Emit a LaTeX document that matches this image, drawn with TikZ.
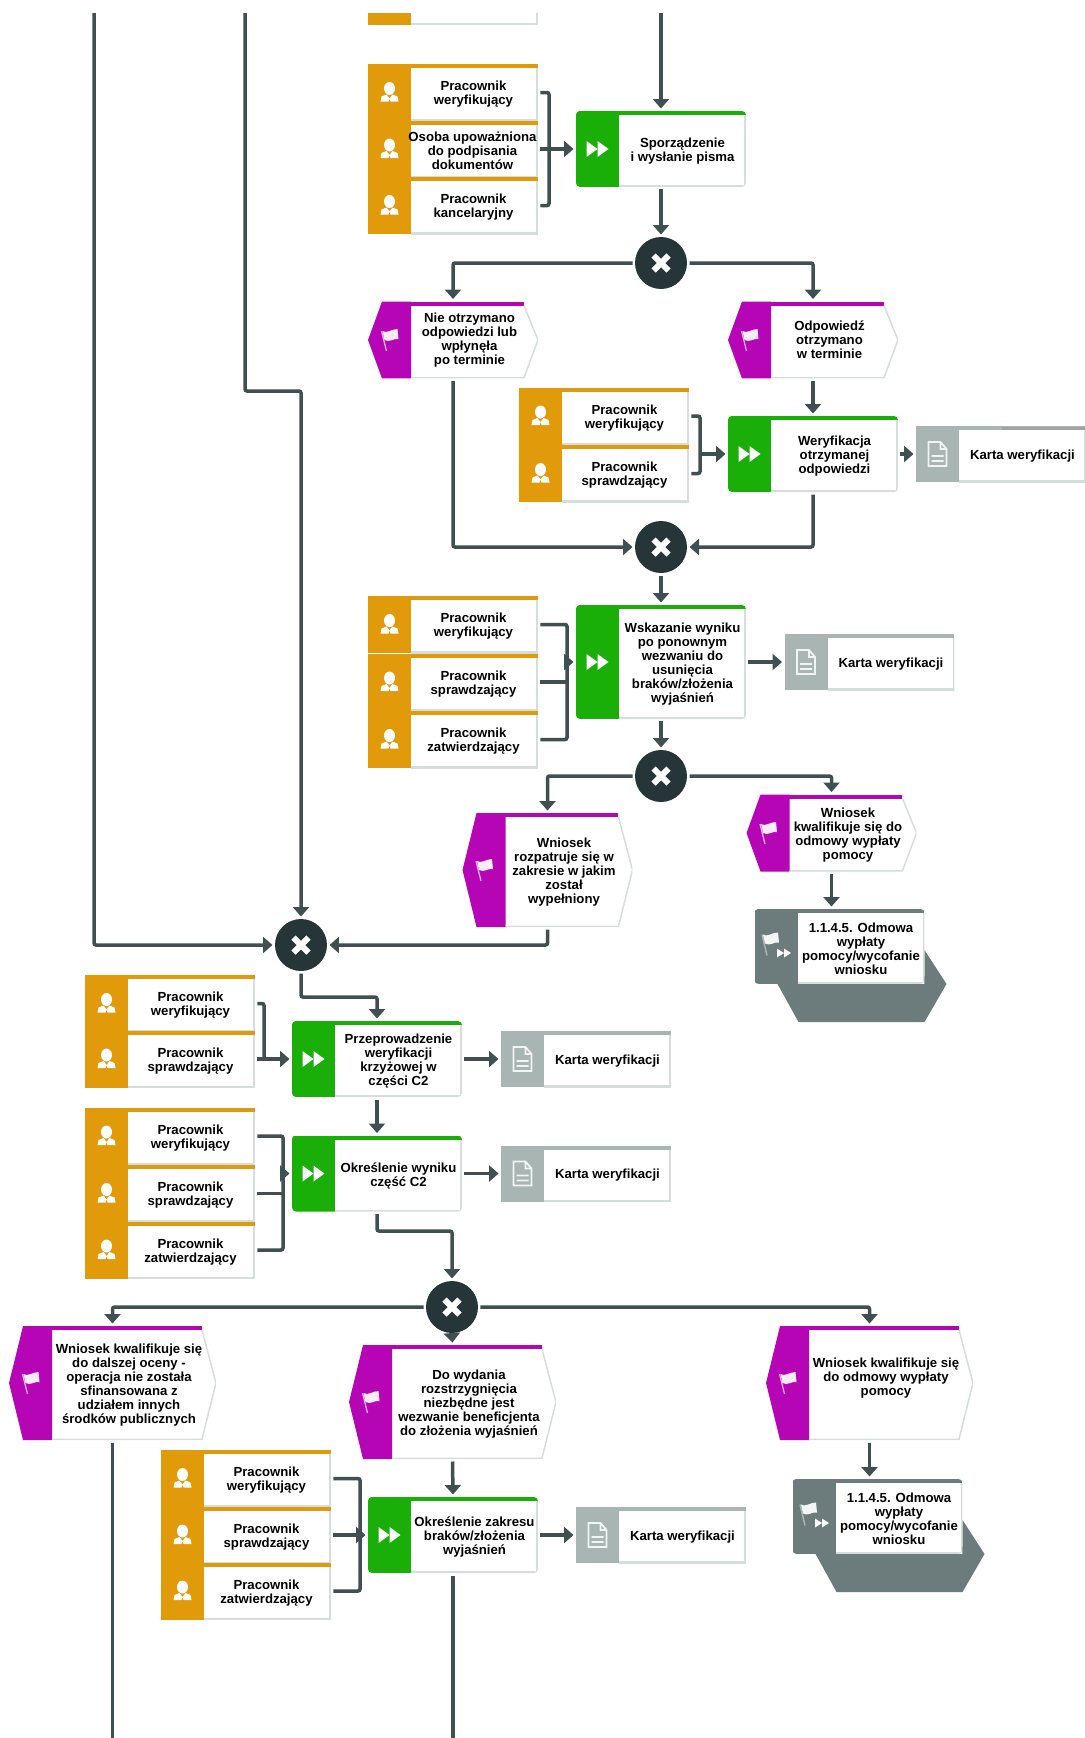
\documentclass[tikz,border=0pt]{standalone}
\usepackage{fontspec}
\setmainfont{Liberation Sans}
\usetikzlibrary{arrows.meta}

\definecolor{roleorange}{HTML}{E09A0A}
\definecolor{taskgreen}{HTML}{1AAE08}
\definecolor{eventpurple}{HTML}{B505B5}
\definecolor{docgray}{HTML}{A9B5B3}
\definecolor{ifacegray}{HTML}{6C7C7C}
\definecolor{edgegray}{HTML}{D5DEDC}
\definecolor{linedark}{HTML}{3F4F52}
\definecolor{gatedark}{HTML}{263538}

\def\pbb{path picture bounding box}

% band, top stripe, edge and icon of a box
\newcommand{\paintbox}[2]{
  \begin{scope}[sharp corners]
  \fill[#1] (\pbb.north west) rectangle ([xshift=.86cm]\pbb.south west);
  \fill[#1] (\pbb.north west) rectangle ([yshift=-.08cm]\pbb.north east);
  \draw[edgegray, line width=.07cm] ([xshift=.86cm]\pbb.south west) -- (\pbb.south east) -- ([yshift=-.08cm]\pbb.north east);
  \pic[shift={(\pbb.west)}, xshift=.43cm] {#2};
  \end{scope}
}
\newcommand{\painthex}{
  \fill[white] (\pbb.west) -- ([xshift=.28cm]\pbb.north west) -- ([xshift=-.28cm]\pbb.north east) -- (\pbb.east) -- ([xshift=-.28cm]\pbb.south east) -- ([xshift=.28cm]\pbb.south west) -- cycle;
  \fill[eventpurple] (\pbb.west) -- ([xshift=.28cm]\pbb.north west) -- ([xshift=.86cm]\pbb.north west) -- ([xshift=.86cm]\pbb.south west) -- ([xshift=.28cm]\pbb.south west) -- cycle;
  \fill[eventpurple] ([xshift=.28cm]\pbb.north west) rectangle ([xshift=-.28cm, yshift=-.08cm]\pbb.north east);
  \draw[edgegray, line width=.03cm] ([xshift=.86cm, yshift=.015cm]\pbb.south west) -- ([xshift=-.28cm, yshift=.015cm]\pbb.south east) -- (\pbb.east) -- ([xshift=-.28cm, yshift=-.08cm]\pbb.north east);
  \pic[shift={(\pbb.west)}, xshift=.43cm] {flagicon};
}
% text of a box, in the white part
\newcommand{\boxlabel}[3][.43cm]{\node[boxtext] (#2text) at ([xshift=#1, yshift=-.04cm]#2.center) {#3};}

\begin{document}
\begin{tikzpicture}[x=0.02cm, y=-0.02cm,
  boxtext/.style={align=center, inner sep=0, font=\bfseries\fontsize{7.5}{7.95}\selectfont},
  rolebox/.style={rectangle, minimum width=3.4cm, minimum height=1.14cm, inner sep=0, outer sep=.05cm, path picture={\paintbox{roleorange}{personicon}}},
  taskbox/.style={rectangle, rounded corners=.08cm, minimum width=3.4cm, minimum height=1.52cm, inner sep=0, outer sep=.05cm, path picture={\paintbox{taskgreen}{ffwdicon}}},
  docbox/.style={rectangle, minimum width=3.4cm, minimum height=1.12cm, inner sep=0, outer sep=.05cm, path picture={\paintbox{docgray}{docicon}}},
  eventbox/.style={rectangle, minimum width=3.4cm, minimum height=1.54cm, inner sep=0, outer sep=.05cm, path picture={\painthex}},
  ifacebox/.style={rectangle, rounded corners=.08cm, minimum width=3.4cm, minimum height=1.5cm, inner sep=0, outer sep=.05cm, path picture={\paintbox{ifacegray}{ifaceicon}}},
  gateway/.style={circle, fill=gatedark, minimum size=1.04cm, inner sep=0, outer sep=.05cm, path picture={
    \draw[white, line width=.12cm] ([shift={(-7.5,-7.5)}]\pbb.center) -- ([shift={(7.5,7.5)}]\pbb.center);
    \draw[white, line width=.12cm] ([shift={(-7.5,7.5)}]\pbb.center) -- ([shift={(7.5,-7.5)}]\pbb.center);}},
  link/.style={draw=linedark, line width=.07cm, rounded corners=.04cm},
  flow/.style={link, -{Triangle[width=.32cm, length=.19cm]}},
  personicon/.pic={
    \fill[white] (0,-4) ellipse (5.5 and 6.5);
    \fill[white] (-9,9) -- (-8,4) -- (-3,2) -- (0,6) -- (3,2) -- (8,4) -- (9,9) -- (1,9) -- (0,6) -- (-1,9) -- cycle;},
  ffwdicon/.pic={
    \fill[white] (-11,-8) -- (0,0) -- (-11,8) -- cycle;
    \fill[white] (0,-8) -- (11,0) -- (0,8) -- cycle;},
  flagicon/.pic={
    \draw[white!70!eventpurple, line width=.025cm] (-8,-9) -- (-3,11);
    \fill[white!92!eventpurple] (-7,-9) .. controls (-3,-6) and (2,-11) .. (8,-11) -- (9,-1) .. controls (4,-2) and (0,3) .. (-5,0) -- cycle;},
  docicon/.pic={
    \draw[white!85!docgray, line width=.035cm] (-9,-12) -- (3,-12) -- (9,-5) -- (9,12) -- (-9,12) -- cycle (3,-12) -- (3,-5) -- (9,-5) (-6,2) -- (6,2) (-6,7) -- (6,7);},
  ifaceicon/.pic={
    \draw[docgray, line width=.03cm] (-14,-12) -- (-9,9);
    \fill[white!92!ifacegray] (-13,-12) .. controls (-9,-9) and (-4,-14) .. (2,-14) -- (3,-4) .. controls (-2,-5) and (-6,0) .. (-11,-3) -- cycle;
    \fill[white] (1,2) -- (8,6.5) -- (1,11) -- cycle;
    \fill[white] (8,2) -- (15,6.5) -- (8,11) -- cycle;}
]
\useasboundingbox (0,0) rectangle (1085,1738);
\clip (0,13) rectangle (1085,1738);

% free ends
\coordinate (in1) at (94,0);
\coordinate (in2) at (245,0);
\coordinate (in3) at (661,0);
\coordinate (out1) at (112.5,1738);
\coordinate (out2) at (453,1738);
\coordinate (brA) at (549,149);
\coordinate (brB) at (700,454);
\coordinate (brC) at (567,662);
\coordinate (brD) at (264,1059);
\coordinate (brE) at (283,1173.5);
\coordinate (brF) at (360,1535);

% roles
\node[rolebox] at (453,-3.5) (r0) {};
\node[rolebox] at (453,92.5) (ra1) {};
\node[rolebox] at (453,149) (ra2) {};
\node[rolebox] at (453,205.5) (ra3) {};
\node[rolebox] at (604,416) (rb1) {};
\node[rolebox] at (604,473.5) (rb2) {};
\node[rolebox] at (453,624.5) (rc1) {};
\node[rolebox] at (453,682) (rc2) {};
\node[rolebox] at (453,739.5) (rc3) {};
\node[rolebox] at (170,1003.5) (rd1) {};
\node[rolebox] at (170,1059) (rd2) {};
\node[rolebox] at (170,1136) (re1) {};
\node[rolebox] at (170,1193.5) (re2) {};
\node[rolebox] at (170,1250) (re3) {};
\node[rolebox] at (246,1478.5) (rf1) {};
\node[rolebox] at (246,1535) (rf2) {};
\node[rolebox] at (246,1591) (rf3) {};

\boxlabel[.41cm]{ra1}{Pracownik\\weryfikujący}
\boxlabel[.39cm]{ra2}{Osoba upoważniona\\do podpisania\\dokumentów}
\boxlabel[.41cm]{ra3}{Pracownik\\kancelaryjny}
\boxlabel[.41cm]{rb1}{Pracownik\\weryfikujący}
\boxlabel[.41cm]{rb2}{Pracownik\\sprawdzający}
\boxlabel[.41cm]{rc1}{Pracownik\\weryfikujący}
\boxlabel[.41cm]{rc2}{Pracownik\\sprawdzający}
\boxlabel[.41cm]{rc3}{Pracownik\\zatwierdzający}
\boxlabel[.41cm]{rd1}{Pracownik\\weryfikujący}
\boxlabel[.41cm]{rd2}{Pracownik\\sprawdzający}
\boxlabel[.41cm]{re1}{Pracownik\\weryfikujący}
\boxlabel[.41cm]{re2}{Pracownik\\sprawdzający}
\boxlabel[.41cm]{re3}{Pracownik\\zatwierdzający}
\boxlabel[.41cm]{rf1}{Pracownik\\weryfikujący}
\boxlabel[.41cm]{rf2}{Pracownik\\sprawdzający}
\boxlabel[.41cm]{rf3}{Pracownik\\zatwierdzający}

% tasks
\node[taskbox] at (661,149) (t1) {};
\node[taskbox] at (813,454) (t2) {};
\node[taskbox, minimum height=2.28cm] at (661,662) (t3) {};
\node[taskbox] at (377,1059) (t4) {};
\node[taskbox] at (377,1173.5) (t5) {};
\node[taskbox] at (453,1535) (t6) {};

\boxlabel{t1}{Sporządzenie\\i wysłanie pisma}
\boxlabel{t2}{Weryfikacja\\otrzymanej\\odpowiedzi}
\boxlabel{t3}{Wskazanie wyniku\\po ponownym\\wezwaniu do\\usunięcia\\braków/złożenia\\wyjaśnień}
\boxlabel{t4}{Przeprowadzenie\\weryfikacji\\krzyżowej w\\części C2}
\boxlabel{t5}{Określenie wyniku\\część C2}
\boxlabel{t6}{Określenie zakresu\\braków/złożenia\\wyjaśnień}

% documents
\node[docbox] at (1001,454) (d1) {};
\fill[black!36] (1002,427) rectangle (1085,430);
\node[docbox] at (869.5,662) (d2) {};
\node[docbox] at (586,1059) (d3) {};
\node[docbox] at (586,1173.5) (d4) {};
\node[docbox] at (661,1535) (d5) {};

\boxlabel{d1}{Karta weryfikacji}
\boxlabel{d2}{Karta weryfikacji}
\boxlabel{d3}{Karta weryfikacji}
\boxlabel{d4}{Karta weryfikacji}
\boxlabel{d5}{Karta weryfikacji}

% events
\node[eventbox] at (453,340) (e1) {};
\node[eventbox] at (813,340) (e2) {};
\node[eventbox, minimum height=2.28cm] at (547.5,870) (e3) {};
\node[eventbox] at (831.5,833) (e4) {};
\node[eventbox, minimum width=4.14cm, minimum height=2.28cm] at (112.5,1383) (e5) {};
\node[eventbox, minimum width=4.14cm, minimum height=2.28cm] at (452.5,1402) (e6) {};
\node[eventbox, minimum width=4.14cm, minimum height=2.28cm] at (869.5,1383) (e7) {};

\node[boxtext] (e1text) at ([xshift=.33cm]e1.center) {Nie otrzymano\\odpowiedzi lub\\wpłynęła\\po terminie};
\node[boxtext] (e2text) at ([xshift=.33cm]e2.center) {Odpowiedź\\otrzymano\\w terminie};
\boxlabel[.33cm]{e3}{Wniosek\\rozpatruje się w\\zakresie w jakim\\został\\wypełniony}
\boxlabel[.33cm]{e4}{Wniosek\\kwalifikuje się do\\odmowy wypłaty\\pomocy}
\boxlabel[.33cm]{e5}{Wniosek kwalifikuje się\\do dalszej oceny -\\operacja nie została\\sfinansowana z\\udziałem innych\\środków publicznych}
\boxlabel[.33cm]{e6}{Do wydania\\rozstrzygnięcia\\niezbędne jest\\wezwanie beneficjenta\\do złożenia wyjaśnień}
\node[boxtext] (e7text) at ([xshift=.33cm, yshift=.09cm]e7.center) {Wniosek kwalifikuje się\\do odmowy wypłaty\\pomocy};

% process interfaces
\node[ifacebox] at (839.5,946.5) (p1) {};
\fill[ifacegray] ([xshift=.51cm, yshift=.05cm]p1.south west) -- ++(21,38) -- ++(126,0) -- ++(22,-38) -- ++(-22,-34) -- ([xshift=-.05cm, yshift=.05cm]p1.south east) -- cycle;
\node[ifacebox] at (877.5,1516.5) (p2) {};
\fill[ifacegray] ([xshift=.51cm, yshift=.05cm]p2.south west) -- ++(21,38) -- ++(126,0) -- ++(22,-38) -- ++(-22,-34) -- ([xshift=-.05cm, yshift=.05cm]p2.south east) -- cycle;

\boxlabel{p1}{1.1.4.5. Odmowa\\wypłaty\\pomocy/wycofanie\\wniosku}
\boxlabel{p2}{1.1.4.5. Odmowa\\wypłaty\\pomocy/wycofanie\\wniosku}

% gateways
\node[gateway] at (661,263) (g1) {};
\node[gateway] at (661,547) (g2) {};
\node[gateway] at (661,776) (g3) {};
\node[gateway] at (301,945) (g4) {};
\node[gateway] at (452,1307) (g5) {};

% connectors
\draw[flow] (in1) |- (g4.west);
\draw[flow] (in2) -- ++(0,391) -| (g4.north);
\draw[flow] (in3) -- (t1.north);

\draw[link] (ra1.east) -| (brA);
\draw[link] (ra3.east) -| (brA);
\draw[flow] (ra2.east) -- (t1.west);
\draw[flow] (t1.south) -- (g1.north);
\draw[flow] (g1.west) -| (e1.north);
\draw[flow] (g1.east) -| (e2.north);

\draw[flow] (e1.south) |- (g2.west);
\draw[flow] (e2.south) -- (t2.north);
\draw[link] (rb1.east) -| (brB);
\draw[link] (rb2.east) -| (brB);
\draw[flow] (brB) -- (t2.west);
\draw[flow] (t2.east) -- (d1.west);
\draw[flow] (t2.south) |- (g2.east);

\draw[flow] (g2.south) -- (t3.north);
\draw[link] (rc1.east) -| (brC);
\draw[link] (rc3.east) -| (brC);
\draw[link] (rc2.east) -- (rc2.east -| brC);
\draw[flow] (brC) -- (t3.west);
\draw[flow] (t3.east) -- (d2.west);
\draw[flow] (t3.south) -- (g3.north);
\draw[flow] (g3.west) -| (e3.north);
\draw[flow] (g3.east) -| (e4.north);
\draw[flow] (e4.south) -- (e4.south |- p1.north);
\draw[flow] (e3.south) |- (g4.east);

\draw[flow] (g4.south) -- ++(0,23.5) -| (t4.north);
\draw[link] (rd1.east) -| (brD);
\draw[flow] (rd2.east) -- (t4.west);
\draw[flow] (t4.east) -- (d3.west);
\draw[flow] (t4.south) -- (t5.north);

\draw[link] (re1.east) -| (brE);
\draw[link] (re3.east) -| (brE);
\draw[link] (re2.east) -- (re2.east -| brE);
\draw[flow] (brE) -- (t5.west);
\draw[flow] (t5.east) -- (d4.west);
\draw[flow] (t5.south) -- ++(0,17) -| (g5.north);

\draw[flow] (g5.west) -| (e5.north);
\draw[flow] (g5.east) -| (e7.north);
\draw[flow] (g5.south) -- (e6.north);
\draw[link] (e5.south) -- (out1);
\draw[flow] (e7.south) -- (e7.south |- p2.north);
\draw[flow] (e6.south) -- (t6.north);

\draw[link] (rf1.east) -| (brF);
\draw[link] (rf3.east) -| (brF);
\draw[flow] (rf2.east) -- (t6.west);
\draw[flow] (t6.east) -- (d5.west);
\draw[link] (t6.south) -- (out2);
\end{tikzpicture}
\end{document}
